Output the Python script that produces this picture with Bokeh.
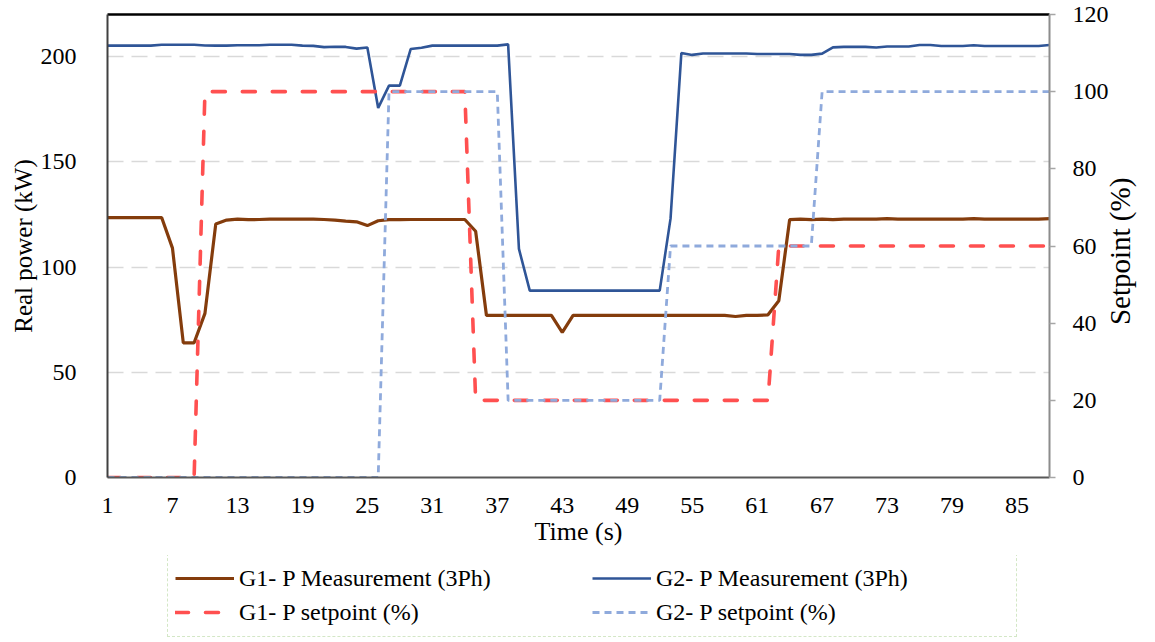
import math
import json
from bokeh.plotting import figure
from bokeh.layouts import column
from bokeh.models import (Range1d, LinearAxis, FixedTicker, Legend, LegendItem,
                          ColumnDataSource, CustomJSTickFormatter)
from bokeh.embed import file_html
from bokeh.resources import INLINE

# ---- data ----
time_s = list(range(1, 89))

g1_meas = [123.5, 123.5, 123.5, 123.5, 123.5, 123.5, 109, 64, 64, 78,
           120.5, 122.3, 122.8, 122.5, 122.6, 122.8, 122.8, 122.8, 122.8, 122.8,
           122.6, 122.3, 121.8, 121.5, 119.7, 122.0, 122.5, 122.5, 122.6, 122.6,
           122.6, 122.6, 122.6, 122.6, 117, 77, 77, 77, 77, 77,
           77, 77, 69, 77, 77, 77, 77, 77, 77, 77,
           77, 77, 77, 77, 77, 77, 77, 77, 76.5, 77,
           77, 77.3, 84, 122.5, 122.8, 122.5, 122.8, 122.5, 122.8, 122.8,
           122.8, 122.8, 123.0, 122.8, 122.8, 122.8, 122.8, 122.8, 122.8, 122.8,
           123.0, 122.8, 122.8, 122.8, 122.8, 122.8, 122.8, 123.0]

g2_meas = [205.2, 205.2, 205.2, 205.2, 205.2, 205.6, 205.6, 205.6, 205.6, 205.3,
           205.2, 205.2, 205.4, 205.4, 205.4, 205.6, 205.6, 205.6, 205.2, 205.1,
           204.5, 204.7, 204.6, 203.8, 204.3, 175.6, 186.2, 186.2, 203.6, 204.2,
           205.2, 205.2, 205.2, 205.2, 205.2, 205.2, 205.2, 205.8, 108.6, 88.8,
           88.8, 88.8, 88.8, 88.8, 88.8, 88.8, 88.8, 88.8, 88.8, 88.8,
           88.8, 88.8, 123, 201.7, 200.8, 201.5, 201.5, 201.5, 201.5, 201.5,
           201.2, 201.2, 201.2, 201.2, 200.8, 200.8, 201.4, 204.4, 204.6, 204.6,
           204.6, 204.3, 204.8, 204.8, 204.8, 205.5, 205.5, 205.0, 205.0, 205.0,
           205.4, 205.0, 205.0, 205.0, 205.0, 205.0, 205.0, 205.5]

g1_setpoint = [0] * 9 + [100] * 25 + [20] * 28 + [60] * 26
g2_setpoint = [0] * 26 + [100] * 11 + [20] * 15 + [60] * 14 + [100] * 22

x_ticks = [1, 7, 13, 19, 25, 31, 37, 43, 49, 55, 61, 67, 73, 79, 85]
left_ticks = [0, 50, 100, 150, 200]
right_ticks = [0, 20, 40, 60, 80, 100, 120]

labels = ["G1- P Measurement (3Ph)", "G2- P Measurement (3Ph)",
          "G1- P setpoint (%)", "G2- P setpoint (%)"]
right_title = "Setpoint (%)"

colors = ["#843C0C", "#2F5597", "#FF5050", "#8FAADC"]
widths = [3.2, 2.6, 3.6, 2.8]
dashes = ["solid", "solid", "13 17", "7 5"]
caps = ["butt", "butt", "round", "butt"]
cols = ["g1", "g2", "s1", "s2"]

src = ColumnDataSource(dict(t=time_s, g1=g1_meas, g2=g2_meas,
                            s1=g1_setpoint, s2=g2_setpoint))

FONT = "Liberation Serif"

p = figure(width=1155, height=555, x_range=Range1d(1, 88), y_range=Range1d(0, 220),
           output_backend="svg", toolbar_location=None,
           min_border_left=107, min_border_right=105, min_border_top=14, min_border_bottom=78)
p.extra_y_ranges = {"pct": Range1d(0, 120)}
p.outline_line_color = None
p.background_fill_color = "white"
p.border_fill_color = "white"

# grid
p.xgrid.grid_line_color = None
p.ygrid.grid_line_color = "#D9D9D9"
p.ygrid.grid_line_dash = "16 8"
p.ygrid.grid_line_width = 1.5

# x axis
xa = p.xaxis[0]
xa.ticker = FixedTicker(ticks=x_ticks)
xa.major_tick_line_color = None
xa.minor_tick_line_color = None
xa.axis_line_color = "#595959"
xa.axis_line_width = 2
xa.major_label_standoff = 14
xa.major_label_text_font = FONT
xa.major_label_text_font_size = "24px"
xa.major_label_text_color = "black"
xa.axis_label = "Time (s)"
xa.axis_label_text_font = FONT
xa.axis_label_text_font_size = "26px"
xa.axis_label_text_font_style = "normal"
xa.axis_label_text_color = "black"
xa.axis_label_standoff = 1

# left axis
ya = p.yaxis[0]
ya.ticker = FixedTicker(ticks=left_ticks)
ya.major_tick_line_color = None
ya.minor_tick_line_color = None
ya.axis_line_color = "#404040"
ya.axis_line_width = 2
ya.major_label_standoff = 25
ya.major_label_text_font = FONT
ya.major_label_text_font_size = "24px"
ya.major_label_text_color = "black"
ya.axis_label = "Real power (kW)"
ya.axis_label_text_font = FONT
ya.axis_label_text_font_size = "25px"
ya.axis_label_text_font_style = "normal"
ya.axis_label_text_color = "black"
ya.axis_label_standoff = 1

# right axis (ticks and numbers)
ra = LinearAxis(y_range_name="pct", ticker=FixedTicker(ticks=right_ticks))
ra.major_tick_out = 6
ra.major_tick_in = 0
ra.major_tick_line_color = "#A6A6A6"
ra.major_tick_line_width = 1.5
ra.minor_tick_line_color = None
ra.axis_line_color = "#8C8C8C"
ra.axis_line_width = 2
ra.major_label_standoff = 17
ra.major_label_text_font = FONT
ra.major_label_text_font_size = "24px"
ra.major_label_text_color = "black"
p.add_layout(ra, "right")

# right axis title, written bottom-to-top: a label-only axis whose single
# label starts low enough for the rotated text to sit centred on the frame
title_start = 39.5
ta2 = LinearAxis(y_range_name="pct", ticker=FixedTicker(ticks=[title_start]),
                 formatter=CustomJSTickFormatter(code="return " + json.dumps(right_title) + ";"))
ta2.axis_line_color = None
ta2.major_tick_line_color = None
ta2.major_tick_out = 0
ta2.major_tick_in = 0
ta2.minor_tick_line_color = None
ta2.major_label_orientation = math.pi / 2
ta2.major_label_standoff = 9
ta2.major_label_text_font = FONT
ta2.major_label_text_font_size = "29px"
ta2.major_label_text_color = "black"
p.add_layout(ta2, "right")

# top border line
ta = LinearAxis(ticker=FixedTicker(ticks=[]))
ta.axis_line_color = "black"
ta.axis_line_width = 2.5
ta.major_tick_line_color = None
ta.minor_tick_line_color = None
ta.major_label_text_font_size = "0px"
ta.major_label_standoff = 0
p.add_layout(ta, "above")

# series
rs = []
for c, col, w, d, cap in zip(cols, colors, widths, dashes, caps):
    yr = "pct" if c.startswith("s") else "default"
    rs.append(p.line("t", c, source=src, y_range_name=yr, line_color=col,
                     line_width=w, line_dash=d, line_cap=cap))

# ---- legend strip: second figure whose view window lies outside the data,
# so its copies of the series serve only as legend keys ----
lg = figure(width=1155, height=87, x_range=Range1d(1, 88), y_range=Range1d(1000, 1001),
            output_backend="svg", toolbar_location=None,
            x_axis_type=None, y_axis_type=None, min_border=0)
lg.outline_line_color = None
lg.xgrid.visible = False
lg.ygrid.visible = False
lg.background_fill_color = "white"
lg.border_fill_color = "white"
ks = []
for c, col, w, d, cap in zip(cols, colors, widths, dashes, caps):
    ks.append(lg.line("t", c, source=src, line_color=col, line_width=w,
                      line_dash=d, line_cap=cap))

legend = Legend(items=[LegendItem(label=lab, renderers=[k]) for lab, k in zip(labels, ks)],
                orientation="horizontal", ncols=2, location=(60, 5))
legend.label_text_font = FONT
legend.label_text_font_size = "24px"
legend.label_text_color = "black"
legend.glyph_width = 59
legend.glyph_height = 34
legend.label_height = 34
legend.label_width = 353
legend.label_standoff = 5
legend.padding = 7
legend.spacing = 0
legend.margin = 0
legend.border_line_color = "#A9D18E"
legend.border_line_dash = "4 3"
legend.border_line_width = 1.5
legend.background_fill_color = "white"
legend.background_fill_alpha = 1
lg.add_layout(legend, "center")

layout = column(p, lg, spacing=0)
open("out.html", "w").write(file_html(layout, INLINE))
